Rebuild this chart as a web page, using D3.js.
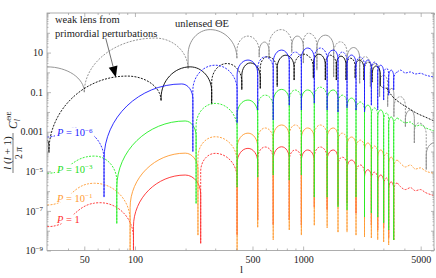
<!DOCTYPE html>
<html>
<head>
<meta charset="utf-8">
<script src="https://cdnjs.cloudflare.com/ajax/libs/d3/7.8.5/d3.min.js"></script>
<style>
body { margin: 0; background: #fff; }
svg { display: block; font-family: "Liberation Serif", "DejaVu Serif", serif; }
</style>
</head>
<body>
<script>
// Theta-E spectra.
// Each series: local maxima ("peaks") and zero-crossing cusps ("dips"), as [l, value].

const grayPeaks = [[30, 1.9], [132, 54], [280, 145], [470, 68], [590, 34], [740, 145], [923, 68],
	[1078, 95], [1355, 76], [1664, 35], [1996, 18], [2344, 6.2], [2688, 2.8], [3012, 0.72],
	[3380, 0.155], [3787, 0.059], [4343, 0.0126], [4869, 0.0028], [6000, 2.7e-4]];
const grayDips = [[50, 0.1], [207, 1.5], [404, 5.2], [548, 5.9], [627, 5.2], [856, 10], [1003, 2.95],
	[1208, 1.3], [1519, 0.58], [1824, 0.41], [2169, 0.28], [2510, 0.19], [2850, 0.059], [3182, 0.018],
	[3466, 0.0058], [4055, 0.0018], [4584, 2.7e-4], [5395, 1.2e-5]];

const blackPeaks = [[30, 3.8e-4], [90, 0.65], [213, 1.9], [352, 2.8], [485, 3.0], [614, 6.2], [790, 7.4],
	[1010, 8.3], [1240, 8.3], [1451, 7.4], [1680, 6.6], [1920, 5.2], [2160, 4.2], [2440, 3.3],
	[2720, 2.1], [3140, 0.16]];
const blackDips = [[30.8, 9e-5], [143, 0.037], [286, 0.025], [432, 0.13], [556, 0.155], [701, 0.19],
	[884, 0.41], [1150, 0.51], [1355, 0.41], [1575, 0.41], [1800, 0.41], [2040, 0.51], [2300, 0.41],
	[2570, 0.32], [2878, 0.23]];
const blackTail = [[3385, 0.063], [3787, 0.028], [4200, 0.016], [4700, 0.0089], [5335, 0.0055], [6000, 0.0035]];

const bluePeaks = [[30, 5.4e-4], [44, 1.5e-3], [190, 0.26], [300, 2.3], [470, 4.2], [595, 6.1], [745, 13.4],
	[898, 10.6], [1065, 17], [1265, 17], [1510, 13.4], [1710, 10.6], [1940, 7.5], [2188, 5.9], [2425, 4.2],
	[2655, 3.3], [2895, 2.3], [3140, 1.6], [3340, 1.3], [3632, 1.03]];
const blueDips = [[65.5, 5e-7], [221, 1e-4], [405, 2.7e-3], [537, 0.0126], [664, 4e-3], [827, 0.022],
	[976, 0.0126], [1165, 0.028], [1389, 0.0126], [1612, 0.01], [1824, 0.016], [2063, 0.0126],
	[2317, 0.01], [2545, 0.022], [2777, 0.0126], [3012, 0.04], [3226, 0.07], [3456, 0.13]];
const blueTail = [[3787, 1.3], [4055, 0.93], [4343, 1.05], [4651, 0.83], [4981, 0.9], [5335, 0.73], [6000, 0.58]];

const greenPeaks = [[30, 8e-6], [57.5, 5.9e-5], [199, 3.5e-3], [300, 0.027], [470, 0.04], [595, 0.071],
	[745, 0.138], [898, 0.129], [1065, 0.129], [1265, 0.18], [1510, 0.129], [1710, 0.071], [1940, 0.05],
	[2188, 0.032], [2425, 0.022], [2655, 0.016], [2895, 0.0126], [3140, 0.0089], [3340, 0.0056], [3632, 0.0049]];
const greenDips = [[78, 2.3e-8], [231, 2.4e-7], [405, 1.6e-6], [537, 5.1e-6], [664, 6.5e-6], [827, 3.6e-6],
	[976, 6.5e-6], [1165, 5e-7], [1389, 5e-7], [1612, 1.6e-7], [1824, 1.1e-7], [2063, 5e-7], [2317, 4.9e-8],
	[2545, 7.8e-8], [2777, 4.9e-8], [3012, 2.5e-8], [3226, 1.1e-8], [3456, 3.4e-9]];
const greenTail = [[3787, 0.0039], [4055, 0.0028], [4343, 0.0031], [4651, 0.0019], [4981, 0.0022], [5335, 0.0016], [6000, 0.0011]];

const orangePeaks = [[30, 2e-7], [57.5, 2.5e-6], [199, 8.3e-5], [300, 5.6e-4], [470, 8.5e-4], [595, 1.55e-3],
	[745, 2.2e-3], [898, 2.2e-3], [1065, 1.55e-3], [1265, 2.2e-3], [1510, 1.55e-3], [1710, 8.5e-4],
	[1940, 5.4e-4], [2188, 3.8e-4], [2425, 2.7e-4], [2655, 1.9e-4], [2895, 1.2e-4], [3140, 8.3e-5],
	[3340, 5.2e-5], [3632, 3.7e-5]];
const orangeDips = [[93.6, 5e-10], [237, 6e-9], [405, 5e-10], [537, 1.5e-8], [664, 3.4e-9], [827, 1.1e-8],
	[976, 6e-9], [1165, 1.9e-8], [1389, 1.4e-8], [1612, 8.5e-9], [1824, 8.5e-9], [2063, 6e-9], [2317, 4.8e-9],
	[2545, 4.3e-9], [2777, 3.4e-9], [3012, 2.7e-9], [3226, 1.9e-9], [3456, 3.4e-9]];
const orangeTail = [[3787, 2.6e-5], [4055, 1.66e-5], [4343, 2.1e-5], [4651, 1.3e-5], [4981, 1.5e-5], [5335, 1.05e-5], [6000, 8e-6]];

const redPeaks = [[30, 1.6e-8], [62, 2.6e-7], [199, 6.5e-6], [300, 8.1e-5], [470, 1.45e-4], [595, 1.7e-4],
	[745, 1.74e-4], [898, 1.2e-4], [1065, 1.2e-4], [1265, 1.7e-4], [1510, 1.2e-4], [1710, 5.2e-5],
	[1940, 3.7e-5], [2188, 2.1e-5], [2425, 1.2e-5], [2655, 9.1e-6], [2895, 6.5e-6], [3140, 4.6e-6],
	[3340, 2.9e-6], [3632, 2.6e-6]];
const redDips = [[98, 5e-10], [246, 2.3e-9], [405, 6e-9], [537, 3.5e-8], [664, 1.9e-8], [827, 3.5e-8],
	[976, 1.9e-8], [1165, 1.6e-7], [1389, 1.1e-7], [1612, 2e-7], [1824, 2.5e-7], [2063, 7.8e-8], [2317, 4.4e-8],
	[2545, 1.9e-8], [2777, 1.1e-8], [3012, 1.4e-8], [3226, 4.3e-9], [3456, 3.4e-9]];
const redTail = [[3787, 1.7e-6], [4055, 1.2e-6], [4343, 1.5e-6], [4651, 1.05e-6], [4981, 1.2e-6], [5335, 8.5e-7], [6000, 6e-7]];

const xLabelTicks = [50, 100, 500, 1000, 5000];
const xMinorTicks = [40, 60, 70, 80, 90, 200, 300, 400, 600, 700, 800, 900, 2000, 3000, 4000, 6000];
const yLabelTicks = [10, 0.1, 0.001, 1e-5, 1e-7, 1e-9];
const yLabelText = ['10', '0.1', '0.001', ['10', '\u22125'], ['10', '\u22127'], ['10', '\u22129']];

const width = 436;
const height = 278;
const margin = {top: 13, right: 2, bottom: 27.5, left: 47};

const x = d3.scaleLog().domain([30, 6000]).range([margin.left, width - margin.right]);
const y = d3.scaleLog().domain([1e-9, 1e3]).range([height - margin.bottom, margin.top]);

const svg = d3.select('body').append('svg')
	.attr('width', width).attr('height', height)
	.attr('viewBox', [0, 0, width, height]);

svg.append('clipPath').attr('id', 'plot-clip')
	.append('rect')
	.attr('x', margin.left).attr('y', margin.top)
	.attr('width', width - margin.right - margin.left)
	.attr('height', height - margin.bottom - margin.top);

// one segment between two vertices: rounded dome at peaks, plunging vertically into cusps
function segment(p, a, b) {
	const xa = x(a.l), ya = y(a.v), xb = x(b.l), yb = y(b.v);
	const dx = xb - xa;
	if (a.dip && !b.dip) {
		const depth = Math.min(ya - yb, 0.9 * dx + 5);
		const s = yb + depth;
		p.lineTo(xa, s);
		p.bezierCurveTo(xa, s - 0.55 * depth, xb - 0.55 * dx, yb, xb, yb);
	} else if (!a.dip && b.dip) {
		const depth = Math.min(yb - ya, 0.9 * dx + 5);
		const s = ya + depth;
		p.bezierCurveTo(xa + 0.55 * dx, ya, xb, s - 0.55 * depth, xb, s);
		p.lineTo(xb, yb);
	} else {
		p.bezierCurveTo(xa + 0.5 * dx, ya, xb - 0.5 * dx, yb, xb, yb);
	}
}

function drawSeries(g, peaks, dips, tail, color, firstDashed) {
	const verts = peaks.map(d => ({l: d[0], v: d[1], dip: false}))
		.concat(dips.map(d => ({l: d[0], v: d[1], dip: true})))
		.sort((a, b) => a.l - b.l);

	const arches = [];
	let cur = [verts[0]];
	for (let i = 1; i < verts.length; i++) {
		cur.push(verts[i]);
		if (verts[i].dip) { arches.push(cur); cur = [verts[i]]; }
	}
	if (cur.length > 1) arches.push(cur);

	arches.forEach((arch, i) => {
		const p = d3.path();
		p.moveTo(x(arch[0].l), y(arch[0].v));
		for (let j = 1; j < arch.length; j++) segment(p, arch[j - 1], arch[j]);
		g.append('path')
			.attr('d', p.toString())
			.attr('fill', 'none')
			.attr('stroke', color)
			.attr('stroke-width', 0.9)
			.attr('stroke-dasharray', (i + firstDashed) % 2 ? '2,1.3' : null);
	});

	if (tail) {
		const last = verts[verts.length - 1];
		const line = d3.line()
			.x(d => x(d[0]))
			.y(d => y(d[1]))
			.curve(d3.curveMonotoneX);
		g.append('path')
			.attr('d', line([[last.l, last.v]].concat(tail)))
			.attr('fill', 'none')
			.attr('stroke', color)
			.attr('stroke-width', 0.9)
			.attr('stroke-dasharray', (arches.length - 1 + firstDashed) % 2 ? '2,1.3' : null);
	}
}

const plot = svg.append('g').attr('clip-path', 'url(#plot-clip)');

drawSeries(plot.append('g'), grayPeaks, grayDips, null, '#8a8a8a', 0);
drawSeries(plot.append('g'), blackPeaks, blackDips, blackTail, '#000000', 0);
drawSeries(plot.append('g'), redPeaks, redDips, redTail, '#ff2a2a', 1);
drawSeries(plot.append('g'), orangePeaks, orangeDips, orangeTail, '#ff9a30', 1);
drawSeries(plot.append('g'), greenPeaks, greenDips, greenTail, '#22ee22', 1);
drawSeries(plot.append('g'), bluePeaks, blueDips, blueTail, '#1a1aff', 1);

// frame and ticks
const frameColor = '#9a9a9a';
const yMinorTicks = [];
for (let e = -9; e < 3; e++) for (let m = 2; m < 10; m++) yMinorTicks.push(m * Math.pow(10, e));
const yMajorTicks = d3.range(-9, 4).map(e => Math.pow(10, e));

function styleAxis(g) {
	g.select('.domain').remove();
	g.selectAll('line').attr('stroke', frameColor).attr('stroke-width', 0.7);
	g.attr('font-family', null).attr('font-size', 10);
	g.selectAll('text').attr('fill', '#222');
}

const plotBottom = y.range()[0], plotTop = y.range()[1];
const plotLeft = x.range()[0], plotRight = x.range()[1];

svg.append('g').attr('transform', `translate(0,${plotBottom})`)
	.call(d3.axisBottom(x).tickValues(xLabelTicks).tickSize(-4).tickPadding(5).tickFormat(d3.format('d')))
	.call(styleAxis);
svg.append('g').attr('transform', `translate(0,${plotBottom})`)
	.call(d3.axisBottom(x).tickValues(xMinorTicks).tickSize(-2).tickFormat(''))
	.call(styleAxis);
svg.append('g').attr('transform', `translate(0,${plotTop})`)
	.call(d3.axisTop(x).tickValues(xLabelTicks).tickSize(-4).tickFormat(''))
	.call(styleAxis);
svg.append('g').attr('transform', `translate(0,${plotTop})`)
	.call(d3.axisTop(x).tickValues(xMinorTicks).tickSize(-2).tickFormat(''))
	.call(styleAxis);

const yAxisG = svg.append('g').attr('transform', `translate(${plotLeft},0)`)
	.call(d3.axisLeft(y).tickValues(yLabelTicks).tickSize(-4).tickPadding(4))
	.call(styleAxis);
yAxisG.selectAll('text').each(function(d, i) {
	const t = d3.select(this).text(null);
	const lab = yLabelText[i];
	if (typeof lab === 'string') { t.text(lab); return; }
	t.append('tspan').text(lab[0]);
	t.append('tspan').attr('dy', '-0.45em').attr('font-size', 7).text(lab[1]);
});
svg.append('g').attr('transform', `translate(${plotLeft},0)`)
	.call(d3.axisLeft(y).tickValues(yMajorTicks.filter(v => !yLabelTicks.includes(v))).tickSize(-3).tickFormat(''))
	.call(styleAxis);
svg.append('g').attr('transform', `translate(${plotLeft},0)`)
	.call(d3.axisLeft(y).tickValues(yMinorTicks).tickSize(-1.5).tickFormat(''))
	.call(styleAxis);
svg.append('g').attr('transform', `translate(${plotRight},0)`)
	.call(d3.axisRight(y).tickValues(yMajorTicks).tickSize(-3).tickFormat(''))
	.call(styleAxis);
svg.append('g').attr('transform', `translate(${plotRight},0)`)
	.call(d3.axisRight(y).tickValues(yMinorTicks).tickSize(-1.5).tickFormat(''))
	.call(styleAxis);

svg.append('rect')
	.attr('x', plotLeft).attr('y', plotTop)
	.attr('width', plotRight - plotLeft).attr('height', plotBottom - plotTop)
	.attr('fill', 'none').attr('stroke', frameColor).attr('stroke-width', 0.8);

// axis titles
svg.append('text').attr('x', 240).attr('y', 273).attr('font-size', 11).attr('fill', '#222').text('l');

const yt = svg.append('g').attr('transform', 'translate(13,153) rotate(-90)').attr('fill', '#222');
yt.append('text').attr('x', 0).attr('y', -2).attr('text-anchor', 'middle').attr('font-size', 11)
	.html('<tspan font-style="italic">l</tspan> (<tspan font-style="italic">l</tspan> + 1)');
yt.append('line').attr('x1', -20).attr('x2', 20).attr('y1', 0).attr('y2', 0)
	.attr('stroke', '#222').attr('stroke-width', 0.6);
yt.append('text').attr('x', 0).attr('y', 9).attr('text-anchor', 'middle').attr('font-size', 9.5)
	.html('2 <tspan font-style="italic">π</tspan>');
yt.append('text').attr('x', 24).attr('y', 3.5).attr('font-size', 11.5)
	.html('<tspan font-style="italic">C</tspan><tspan font-size="7.5" dy="3" font-style="italic">l</tspan><tspan font-size="7" dy="-9" dx="-1.5">ΘE</tspan>');

// annotations
svg.append('text').attr('x', 55).attr('y', 23).attr('font-size', 10.5).attr('fill', '#222').text('weak lens from');
svg.append('text').attr('x', 55).attr('y', 37).attr('font-size', 10.5).attr('fill', '#222').text('primordial perturbations');
svg.append('text').attr('x', 175).attr('y', 27).attr('font-size', 10.5).attr('fill', '#222').text('unlensed ΘE');

const arrowFrom = [67, 54], arrowTo = [77, 0.57];
const ax0 = x(arrowFrom[0]), ay0 = y(arrowFrom[1]), ax1 = x(arrowTo[0]), ay1 = y(arrowTo[1]);
const ang = Math.atan2(ay1 - ay0, ax1 - ax0);
const headLen = 11, headW = 4.5;
const bx = ax1 - headLen * Math.cos(ang), by = ay1 - headLen * Math.sin(ang);
svg.append('line').attr('x1', ax0).attr('y1', ay0).attr('x2', bx).attr('y2', by)
	.attr('stroke', '#333').attr('stroke-width', 0.7);
svg.append('path')
	.attr('d', `M${ax1},${ay1}L${bx - headW * Math.sin(ang)},${by + headW * Math.cos(ang)}L${bx + headW * Math.sin(ang)},${by - headW * Math.cos(ang)}Z`)
	.attr('fill', '#000');

const pLabels = [
	{text: ['10', '\u22126'], color: '#1a1aff', y: 136},
	{text: ['10', '\u22123'], color: '#22dd22', y: 172.5},
	{text: ['10', '\u22121'], color: '#ff9a30', y: 201.5},
	{text: ['1', ''], color: '#ff2a2a', y: 222.5}
];
pLabels.forEach(d => {
	const t = svg.append('text').attr('x', 57).attr('y', d.y).attr('font-size', 10.5).attr('fill', d.color);
	t.append('tspan').attr('font-style', 'italic').text('P');
	t.append('tspan').text(' = ' + d.text[0]);
	if (d.text[1]) t.append('tspan').attr('dy', '-0.45em').attr('font-size', 7).text(d.text[1]);
	const bb = t.node().getBBox();
	svg.insert('rect', function() { return t.node(); })
		.attr('x', bb.x - 1).attr('y', bb.y + 1).attr('width', bb.width + 2).attr('height', bb.height - 2)
		.attr('fill', '#fff');
});
</script>
</body>
</html>
